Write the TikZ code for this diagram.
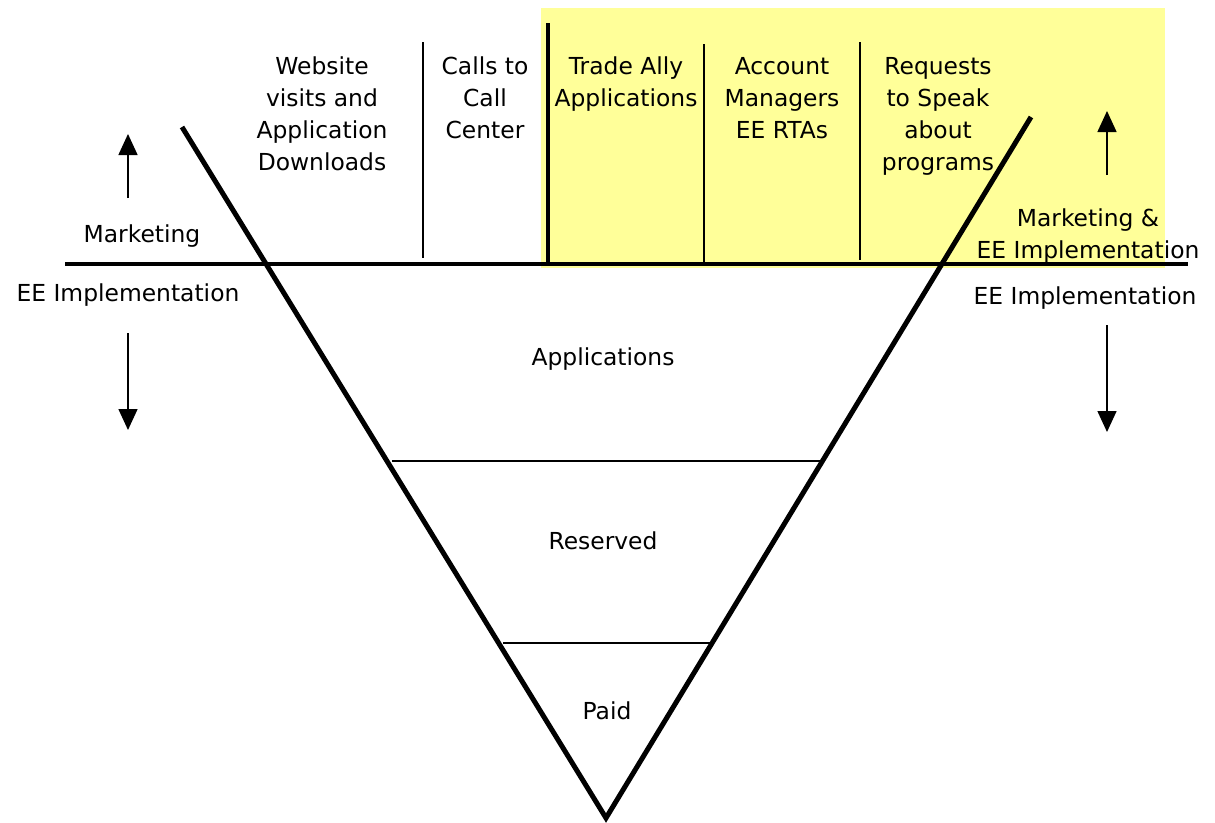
\documentclass[tikz,border=0pt]{standalone}
\usepackage{fontspec}
\setmainfont{DejaVu Sans}
\usetikzlibrary{arrows.meta}
\definecolor{hl}{HTML}{FFFF99}
\tikzset{
  lbl/.style={align=center, inner sep=0pt, font=\fontsize{23.4}{32}\selectfont},
  vline/.style={line width=5pt, line cap=round},
  sep/.style={line width=1.5pt},
  arr/.style={line width=1.5pt, -{Triangle[width=19pt,length=21pt]}},
}
\begin{document}
\begin{tikzpicture}[x=1pt,y=-1pt]
\useasboundingbox (0,0) rectangle (1215,822);
% highlight
\fill[hl] (541,8) rectangle (1165,268);
% coordinates
\coordinate (LT) at (182,127);
\coordinate (RT) at (1031,117);
\coordinate (B) at (606,818);
% horizontal baseline
\coordinate (HL) at (65,264);
\coordinate (HR) at (1188,264);
\draw[line width=4.5pt] (HL) -- (HR);
% separators
\coordinate (s1a) at (423,42); \coordinate (s1b) at (423,258);
\coordinate (s2a) at (548,23); \coordinate (s2b) at (548,262);
\coordinate (s3a) at (704,44); \coordinate (s3b) at (704,262);
\coordinate (s4a) at (860,42); \coordinate (s4b) at (860,260);
\draw[sep] (s1a) -- (s1b);
\draw[line width=4.5pt] (s2a) -- (s2b);
\draw[sep] (s3a) -- (s3b);
\draw[sep] (s4a) -- (s4b);
% funnel
\draw[vline, line cap=butt, line join=miter] (LT) -- (B) -- (RT);
\coordinate (r1a) at (392,461); \coordinate (r1b) at (822,461);
\coordinate (r2a) at (503,643); \coordinate (r2b) at (712,643);
\draw[sep] (r1a) -- (r1b);
\draw[sep] (r2a) -- (r2b);
% column labels
\node[lbl] (web) at (322,114) {Website\\visits and\\Application\\Downloads};
\node[lbl] (calls) at (485,98) {Calls to\\Call\\Center};
\node[lbl] (trade) at (626,84) {Trade Ally\\Applications};
\node[lbl] (acct) at (782,98) {Account\\Managers\\EE RTAs};
\node[lbl] (req) at (938,116) {Requests\\to Speak\\about\\programs};
% side labels
\node[lbl] (mkt) at (142,236) {Marketing};
\node[lbl] (eel) at (128,295) {EE Implementation};
\node[lbl] (mktr) at (1088,236) {Marketing \&\\EE Implementation};
\node[lbl] (eer) at (1085,298) {EE Implementation};
% funnel labels
\node[lbl] (app) at (603,359) {Applications};
\node[lbl] (res) at (603,541) {Reserved};
\node[lbl] (paid) at (607,711) {Paid};
% arrows
\coordinate (a1s) at (128,198); \coordinate (a1e) at (128,134);
\coordinate (a2s) at (128,333); \coordinate (a2e) at (128,430);
\coordinate (a3s) at (1107,175); \coordinate (a3e) at (1107,111);
\coordinate (a4s) at (1107,325); \coordinate (a4e) at (1107,432);
\draw[arr] (a1s) -- (a1e);
\draw[arr] (a2s) -- (a2e);
\draw[arr] (a3s) -- (a3e);
\draw[arr] (a4s) -- (a4e);
\end{tikzpicture}
\end{document}
